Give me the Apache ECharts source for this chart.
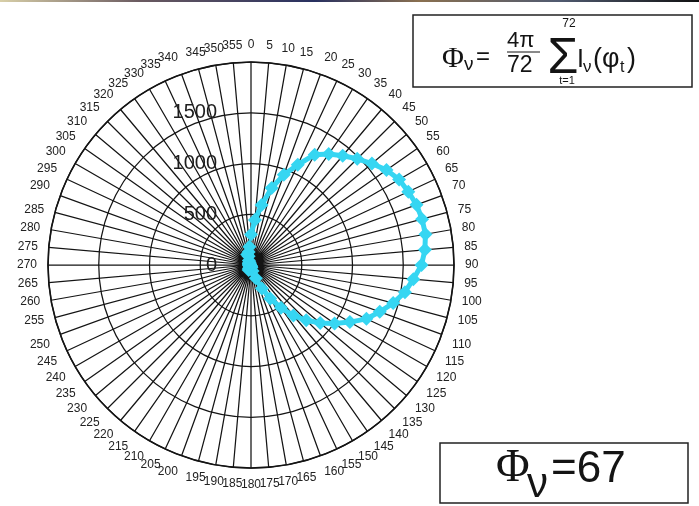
<!DOCTYPE html>
<html>
<head>
<meta charset="utf-8">
<style>
  html, body { margin: 0; padding: 0; background: #ffffff; }
  #chart { width: 699px; height: 506px; }
</style>
<script src="https://cdn.jsdelivr.net/npm/echarts@6/dist/echarts.min.js"></script>
</head>
<body>
<div id="chart"></div>
<script>
// Measurement directions (degrees, clockwise from north), one every 5°
const angles = [];
for (let a = 0; a < 360; a += 5) angles.push(a);

// Luminous intensity I_v at each direction
const intensity = [
  300, 445, 600, 785, 945, 1090, 1255, 1335, 1405, 1480, 1555, 1630,   // 0 .. 55
  1685, 1710, 1735, 1745, 1745, 1720, 1680, 1605, 1540, 1450, 1350, 1255, // 60 .. 115
  1125, 1005, 890, 770, 650, 515, 380, 255, 140, 60, 25, 15,            // 120 .. 175
  10, 12, 15, 20, 40, 55, 40, 25, 15, 10, 10, 12,                        // 180 .. 235
  15, 10, 10, 12, 15, 20, 15, 10, 10, 12, 15, 20,                        // 240 .. 295
  25, 20, 15, 20, 25, 30, 30, 50, 110, 90, 130, 180                      // 300 .. 355
];

// Radial scale ticks
const radiusTicks = [0, 500, 1000, 1500, 2000];

const FONT = "'Liberation Sans', Arial, sans-serif";
const SERIF = "'Liberation Serif', 'Times New Roman', serif";
const INK = '#141414';
const CYAN = '#36d6f2';

const chart = echarts.init(document.getElementById('chart'), null, { renderer: 'canvas' });

chart.setOption({
  animation: false,
  backgroundColor: '#ffffff',
  polar: { center: [251, 265], radius: 203 },
  angleAxis: {
    type: 'value',
    min: 0,
    max: 360,
    interval: 5,
    startAngle: 90,
    clockwise: true,
    axisLine: { show: true, lineStyle: { color: INK, width: 1.6 } },
    axisTick: { show: false },
    axisLabel: {
      margin: 11,
      fontFamily: FONT,
      fontSize: 12,
      color: '#222',
      formatter: v => (v === 360 ? '' : String(v))
    },
    splitLine: { show: true, lineStyle: { color: INK, width: 1.25 } }
  },
  radiusAxis: {
    type: 'value',
    min: radiusTicks[0],
    max: radiusTicks[radiusTicks.length - 1],
    interval: radiusTicks[1] - radiusTicks[0],
    axisLine: { show: false },
    axisTick: { show: false },
    axisLabel: {
      margin: 34,
      fontFamily: FONT,
      fontSize: 20,
      color: '#1e1e1e',
      formatter: v => (v === 2000 ? '' : String(v))
    },
    splitLine: { show: true, lineStyle: { color: INK, width: 1.25 } },
    z: 5
  },
  series: [{
    type: 'line',
    coordinateSystem: 'polar',
    data: angles.map((a, i) => [intensity[i], a]),
    symbol: 'diamond',
    symbolSize: 14,
    showSymbol: true,
    lineStyle: { color: CYAN, width: 5 },
    itemStyle: { color: CYAN },
    z: 10
  }],
  graphic: [
    // thin coloured strip along the top edge
    {
      type: 'rect',
      shape: { x: 0, y: 0, width: 699, height: 2 },
      style: {
        fill: new echarts.graphic.LinearGradient(0, 0, 1, 0, [
          { offset: 0, color: '#d8cfa8' },
          { offset: 0.2, color: '#6a5a60' },
          { offset: 0.45, color: '#283060' },
          { offset: 0.6, color: '#8a7050' },
          { offset: 0.8, color: '#505a70' },
          { offset: 1, color: '#101010' }
        ])
      }
    },
    // flux formula box
    {
      type: 'rect',
      shape: { x: 413, y: 15, width: 279, height: 72 },
      style: { fill: '#ffffff', stroke: '#222', lineWidth: 1.5 }
    },
    { type: 'text', x: 442, y: 59, style: { text: 'Φ', font: '30px ' + SERIF, fill: INK, verticalAlign: 'middle' } },
    { type: 'text', x: 464, y: 65, style: { text: 'ν', font: '19px ' + FONT, fill: INK, verticalAlign: 'middle' } },
    { type: 'text', x: 476, y: 57, style: { text: '=', font: '24px ' + FONT, fill: INK, verticalAlign: 'middle' } },
    { type: 'text', x: 507, y: 41, style: { text: '4π', font: '22px ' + FONT, fill: INK, verticalAlign: 'middle' } },
    { type: 'line', shape: { x1: 507, y1: 52, x2: 540, y2: 52 }, style: { stroke: INK, lineWidth: 1 } },
    { type: 'text', x: 507, y: 66, style: { text: '72', font: '23px ' + FONT, fill: INK, verticalAlign: 'middle' } },
    { type: 'text', x: 563, y: 59, style: { text: 'Σ', font: '50px ' + FONT, fill: INK, verticalAlign: 'middle', align: 'center' } },
    { type: 'text', x: 569, y: 24, style: { text: '72', font: '12px ' + FONT, fill: INK, verticalAlign: 'middle', align: 'center' } },
    { type: 'text', x: 567, y: 81, style: { text: 't=1', font: '11px ' + FONT, fill: INK, verticalAlign: 'middle', align: 'center' } },
    { type: 'text', x: 577, y: 60, style: { text: 'I', font: '25px ' + FONT, fill: INK, verticalAlign: 'middle' } },
    { type: 'text', x: 583, y: 67, style: { text: 'ν', font: '17px ' + FONT, fill: INK, verticalAlign: 'middle' } },
    { type: 'text', x: 593, y: 60, style: { text: '(φ', font: '27px ' + FONT, fill: INK, verticalAlign: 'middle' } },
    { type: 'text', x: 620, y: 68, style: { text: 't', font: '16px ' + FONT, fill: INK, verticalAlign: 'middle' } },
    { type: 'text', x: 627, y: 60, style: { text: ')', font: '27px ' + FONT, fill: INK, verticalAlign: 'middle' } },
    // result box
    {
      type: 'rect',
      shape: { x: 440, y: 443, width: 248, height: 60 },
      style: { fill: '#ffffff', stroke: '#222', lineWidth: 1.5 }
    },
    { type: 'text', x: 496, y: 469, style: { text: 'Φ', font: '46px ' + SERIF, fill: INK, verticalAlign: 'middle' } },
    { type: 'text', x: 527, y: 485, style: { text: 'ν', font: '42px ' + FONT, fill: INK, verticalAlign: 'middle' } },
    { type: 'text', x: 551, y: 470, style: { text: '=67', font: '44px ' + FONT, fill: INK, verticalAlign: 'middle' } }
  ]
});
</script>
</body>
</html>
